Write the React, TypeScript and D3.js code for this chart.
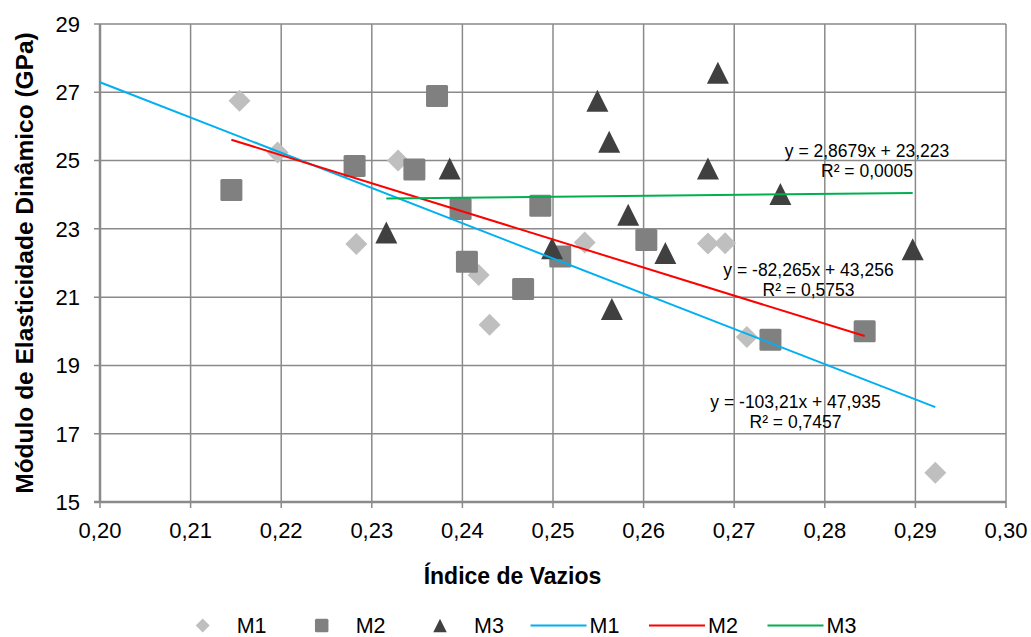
import React from "react";
import * as d3 from "d3";

const m1X = [0.2154, 0.2196, 0.2283, 0.2329, 0.2418, 0.243, 0.2535, 0.2671, 0.269, 0.2714, 0.2922];
const m1Y = [26.75, 25.24, 22.56, 25.0, 21.65, 20.19, 22.6, 22.57, 22.58, 19.83, 15.86];
const m2X = [0.2145, 0.2281, 0.2347, 0.2372, 0.2398, 0.2405, 0.2467, 0.2486, 0.2508, 0.2603, 0.274, 0.2844];
const m2Y = [24.14, 24.84, 24.74, 26.89, 23.58, 22.04, 21.24, 23.68, 22.19, 22.67, 19.75, 20.0];
const m3X = [0.2316, 0.2386, 0.2499, 0.2549, 0.2562, 0.2565, 0.2583, 0.2624, 0.2671, 0.2682, 0.2751, 0.2897];
const m3Y = [22.89, 24.77, 22.43, 26.75, 25.55, 20.65, 23.41, 22.29, 24.77, 27.57, 24.02, 22.4];

const slopes = [-103.21, -82.265, 2.8679];
const intercepts = [47.935, 43.256, 23.223];
const trendStarts = [0.2, null, null]; // M1 trendline forecast backward to 0.20
const eqLabels = ["y = -103,21x + 47,935", "y = -82,265x + 43,256", "y = 2,8679x + 23,223"];
const r2Labels = ["R² = 0,7457", "R² = 0,5753", "R² = 0,0005"];
const eqPos = [[795.5, 408], [808.5, 276], [867, 157]];

const xTicks = [0.2, 0.21, 0.22, 0.23, 0.24, 0.25, 0.26, 0.27, 0.28, 0.29, 0.3];
const yTicks = [15, 17, 19, 21, 23, 25, 27, 29];
const seriesNames = ["M1", "M2", "M3"];
const markerColors = ["#bfbfbf", "#808080", "#404040"];
const lineColors = ["#00b0f0", "#ff0000", "#00b050"];

const FONT = "'Liberation Sans', Arial, sans-serif";
const fmt = (v: number) => v.toFixed(2).replace(".", ",");

function Marker({ kind, x, y, s, color }: { kind: number; x: number; y: number; s: number; color: string }) {
  if (kind === 0) {
    const h = s / 2;
    return <path d={`M${x},${y - h}L${x + h},${y}L${x},${y + h}L${x - h},${y}Z`} fill={color} />;
  }
  if (kind === 1) {
    return <rect x={x - s / 2} y={y - s / 2} width={s} height={s} rx={1.5} fill={color} />;
  }
  const h = s / 2;
  return <path d={`M${x},${y - h}L${x + h},${y + h}L${x - h},${y + h}Z`} fill={color} />;
}

export default function App() {
  const W = 1031, H = 637;
  const x = d3.scaleLinear().domain([0.2, 0.3]).range([100, 1006]);
  const y = d3.scaleLinear().domain([15, 29]).range([502, 24]);
  const xs = [m1X, m2X, m3X];
  const ys = [m1Y, m2Y, m3Y];

  const trend = xs.map((arr, i) => {
    const x0 = trendStarts[i] ?? (d3.min(arr) as number);
    const x1 = d3.max(arr) as number;
    const pts: any = [x0, x1].map((v) => [v, slopes[i] * v + intercepts[i]]);
    return d3.line<[number, number]>().x((p) => x(p[0])).y((p) => y(p[1]))(pts) as string;
  });

  const legendMarkerX = [202.7, 321.7, 440];
  const legendLineX = [530.5, 649, 767.5];
  const legendY = 625.5;

  return (
    <svg width={W} height={H} style={{ position: "absolute", left: 0, top: 0 }} fontFamily={FONT}>
      <rect width={W} height={H} fill="#fff" />
      {/* grid */}
      {yTicks.map((t) => (
        <line key={"gy" + t} x1={94} x2={1006} y1={y(t)} y2={y(t)} stroke="#8a8a8a" strokeWidth={1.5} />
      ))}
      {xTicks.map((t) => (
        <line key={"gx" + t} x1={x(t)} x2={x(t)} y1={24} y2={508} stroke="#8a8a8a" strokeWidth={1.5} />
      ))}
      {/* axes */}
      <line x1={100} x2={100} y1={24} y2={502} stroke="#8a8a8a" strokeWidth={2.5} />
      <line x1={94} x2={1006} y1={502} y2={502} stroke="#8a8a8a" strokeWidth={2.5} />
      {/* tick labels */}
      {yTicks.map((t) => (
        <text key={"ly" + t} x={80} y={y(t) + 7.8} textAnchor="end" fontSize={22} fill="#000">
          {t}
        </text>
      ))}
      {xTicks.map((t) => (
        <text key={"lx" + t} x={x(t)} y={537.8} textAnchor="middle" fontSize={22} fill="#000">
          {fmt(t)}
        </text>
      ))}
      {/* axis titles */}
      <text x={512.5} y={583.5} textAnchor="middle" fontSize={23} fontWeight="bold" fill="#000">
        Índice de Vazios
      </text>
      <text
        transform={`translate(33,263) rotate(-90)`}
        textAnchor="middle"
        fontSize={24.5}
        fontWeight="bold"
        fill="#000"
      >
        Módulo de Elasticidade Dinâmico (GPa)
      </text>
      {/* markers */}
      {xs.map((arr, i) =>
        arr.map((v, j) => (
          <Marker key={`m${i}-${j}`} kind={i} x={x(v)} y={y(ys[i][j])} s={22} color={markerColors[i]} />
        ))
      )}
      {/* trendlines */}
      {trend.map((d, i) => (
        <path key={"t" + i} d={d} stroke={lineColors[i]} strokeWidth={2} fill="none" />
      ))}
      {/* equations */}
      {eqLabels.map((e, i) => (
        <g key={"eq" + i} fontSize={17.5} fill="#000">
          <text x={eqPos[i][0]} y={eqPos[i][1]} textAnchor="middle">{e}</text>
          <text x={eqPos[i][0]} y={eqPos[i][1] + 19.5} textAnchor="middle">{r2Labels[i]}</text>
        </g>
      ))}
      {/* legend */}
      {seriesNames.map((n, i) => (
        <g key={"lg" + i}>
          <Marker kind={i} x={legendMarkerX[i]} y={legendY} s={i === 0 ? 14 : 13.5} color={markerColors[i]} />
          <text x={legendMarkerX[i] + 34} y={legendY + 7.5} fontSize={21.5} fill="#000">{n}</text>
        </g>
      ))}
      {seriesNames.map((n, i) => (
        <g key={"ll" + i}>
          <line x1={legendLineX[i]} x2={legendLineX[i] + 56} y1={legendY} y2={legendY} stroke={lineColors[i]} strokeWidth={2} />
          <text x={legendLineX[i] + 59} y={legendY + 7.5} fontSize={21.5} fill="#000">{n}</text>
        </g>
      ))}
    </svg>
  );
}
